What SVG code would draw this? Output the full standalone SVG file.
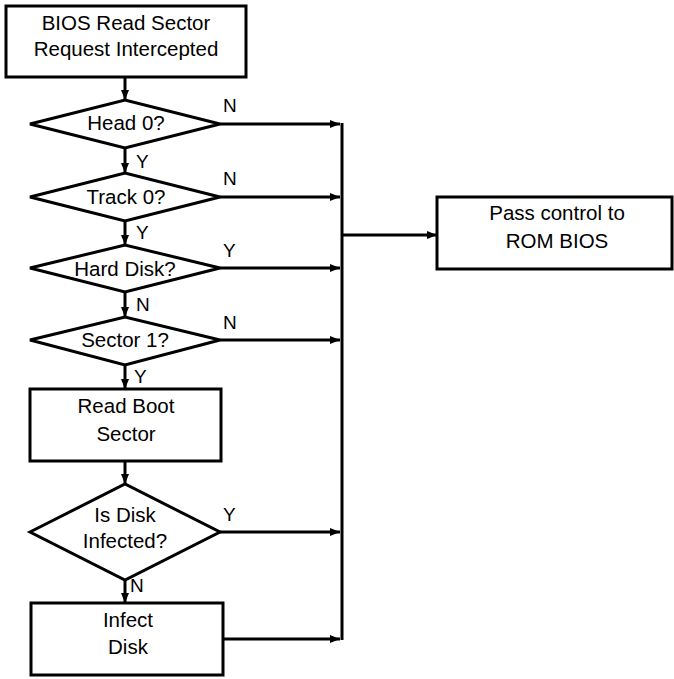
<svg xmlns="http://www.w3.org/2000/svg" width="674" height="679" viewBox="0 0 674 679">
<style>
.s{fill:#fff;stroke:#000;stroke-width:3}
.t{font-family:"Liberation Sans",Arial,sans-serif;font-size:20.5px;text-anchor:middle;fill:#000}
.l{font-family:"Liberation Sans",Arial,sans-serif;font-size:19px;fill:#000}
.c{fill:none;stroke:#000;stroke-width:3}
</style>
<defs>
<marker id="a" viewBox="0 0 10 8" refX="10" refY="4" markerWidth="10" markerHeight="8" markerUnits="userSpaceOnUse" orient="auto">
<path d="M0,0L10,4L0,8z" fill="#000"/>
</marker>
</defs>
<g id="connectors">
<path class="c" d="M125,77V100" marker-end="url(#a)"/>
<path class="c" d="M125,148V173" marker-end="url(#a)"/>
<path class="c" d="M125,221V245" marker-end="url(#a)"/>
<path class="c" d="M125,292V317" marker-end="url(#a)"/>
<path class="c" d="M125,365V389" marker-end="url(#a)"/>
<path class="c" d="M125,461V484" marker-end="url(#a)"/>
<path class="c" d="M125,580V603" marker-end="url(#a)"/>
<path class="c" d="M220,124H340" marker-end="url(#a)"/>
<path class="c" d="M220,197H340" marker-end="url(#a)"/>
<path class="c" d="M220,268H340" marker-end="url(#a)"/>
<path class="c" d="M220,340H340" marker-end="url(#a)"/>
<path class="c" d="M220,532H340" marker-end="url(#a)"/>
<path class="c" d="M223,639H340" marker-end="url(#a)"/>
<path class="c" d="M342,123V640"/>
<path class="c" d="M342,235H437" marker-end="url(#a)"/>
<text class="l" x="223" y="112">N</text>
<text class="l" x="136" y="168">Y</text>
<text class="l" x="223" y="185">N</text>
<text class="l" x="136" y="239">Y</text>
<text class="l" x="223" y="257">Y</text>
<text class="l" x="136" y="311">N</text>
<text class="l" x="223" y="329">N</text>
<text class="l" x="134" y="383">Y</text>
<text class="l" x="223" y="521">Y</text>
<text class="l" x="130" y="592">N</text>
</g>
<g id="start">
<rect class="s" x="6" y="6" width="240" height="71"/>
<text class="t" x="126" y="30">BIOS Read Sector</text>
<text class="t" x="126" y="56">Request Intercepted</text>
</g>
<g id="head0">
<path class="s" d="M30,124L125,100L220,124L125,148z"/>
<text class="t" x="126" y="130">Head 0?</text>
</g>
<g id="track0">
<path class="s" d="M30,197L125,173L220,197L125,221z"/>
<text class="t" x="126" y="204">Track 0?</text>
</g>
<g id="harddisk">
<path class="s" d="M30,268L125,245L220,268L125,292z"/>
<text class="t" x="125" y="276">Hard Disk?</text>
</g>
<g id="sector1">
<path class="s" d="M30,340L125,317L220,340L125,365z"/>
<text class="t" x="125" y="347">Sector 1?</text>
</g>
<g id="readboot">
<rect class="s" x="30" y="389" width="191" height="72"/>
<text class="t" x="126" y="413">Read Boot</text>
<text class="t" x="126" y="441">Sector</text>
</g>
<g id="infected">
<path class="s" d="M30,532L125,484L220,532L125,580z"/>
<text class="t" x="125" y="522">Is Disk</text>
<text class="t" x="125" y="548">Infected?</text>
</g>
<g id="infect">
<rect class="s" x="31" y="603" width="192" height="72"/>
<text class="t" x="128" y="627">Infect</text>
<text class="t" x="128" y="654">Disk</text>
</g>
<g id="rombios">
<rect class="s" x="437" y="197" width="235" height="72"/>
<text class="t" x="557" y="220">Pass control to</text>
<text class="t" x="557" y="248">ROM BIOS</text>
</g>
</svg>
